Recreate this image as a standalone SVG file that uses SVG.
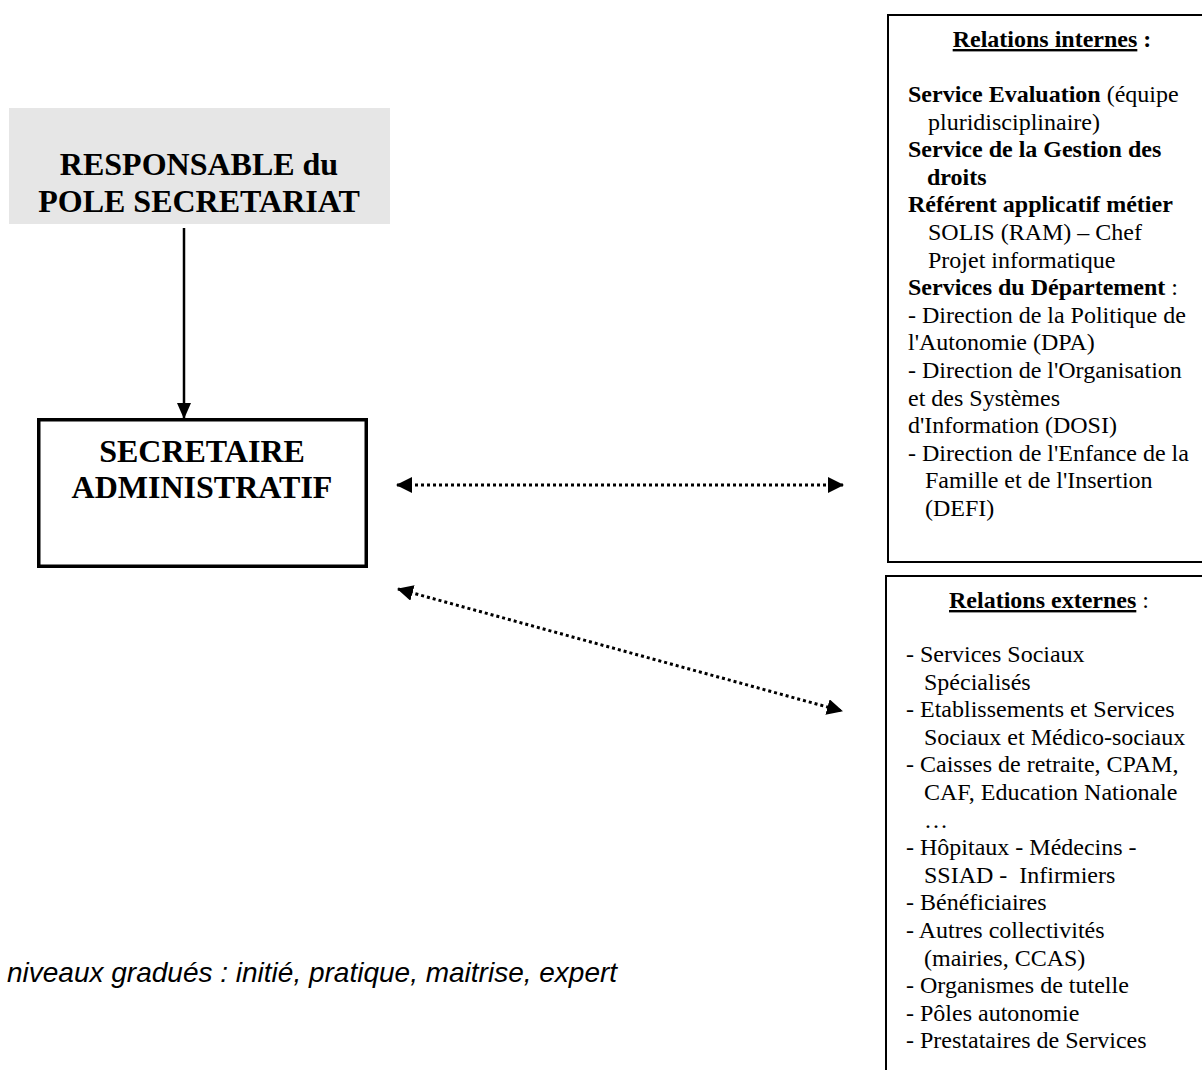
<svg xmlns="http://www.w3.org/2000/svg" width="1202" height="1070" viewBox="0 0 1202 1070">
<style>
.t{font-family:"Liberation Serif","Times New Roman",serif;fill:#000}
.big{font-size:32px;font-weight:bold;text-anchor:middle}
.list{font-size:24px}
.b{font-weight:bold}
.it{font-family:"Liberation Sans",Arial,sans-serif;font-style:italic;font-size:28px;fill:#000}
.dot{stroke:#000;stroke-width:3;stroke-dasharray:3 3;fill:none}
</style>
<defs>
<marker id="ah" viewBox="0 0 16 16" refX="15" refY="8" markerWidth="16" markerHeight="16" markerUnits="userSpaceOnUse" orient="auto-start-reverse">
<path d="M0,0 L16,8 L0,16 Z" fill="#000"/>
</marker>
<marker id="ahs" viewBox="0 0 16 14" refX="15" refY="7" markerWidth="16" markerHeight="14" markerUnits="userSpaceOnUse" orient="auto">
<path d="M0,0 L16,7 L0,14 Z" fill="#000"/>
</marker>
</defs>
<rect width="1202" height="1070" fill="#fff"/>
<g id="responsable">
<rect x="9" y="108" width="381" height="116" fill="#e6e6e6"/>
<text class="t big" x="199" y="175">RESPONSABLE du</text>
<text class="t big" x="199" y="212">POLE SECRETARIAT</text>
</g>
<g id="secretaire">
<rect x="38.75" y="419.75" width="327.5" height="146.5" fill="#fff" stroke="#000" stroke-width="3.5"/>
<text class="t big" x="202" y="462">SECRETAIRE</text>
<text class="t big" x="202" y="498">ADMINISTRATIF</text>
</g>
<g id="relations-internes">
<rect x="888" y="15" width="330" height="547" fill="#fff" stroke="#000" stroke-width="2"/>
<text class="t list b" x="1052" y="47" text-anchor="middle"><tspan text-decoration="underline">Relations internes</tspan> :</text>
<text class="t list" x="908" y="102"><tspan class="b">Service Evaluation</tspan> (équipe</text>
<text class="t list" x="928" y="129.6">pluridisciplinaire)</text>
<text class="t list b" x="908" y="157.2">Service de la Gestion des</text>
<text class="t list b" x="927" y="184.8">droits</text>
<text class="t list b" x="908" y="212.4">Référent applicatif métier</text>
<text class="t list" x="928" y="240">SOLIS (RAM) – Chef</text>
<text class="t list" x="928" y="267.6">Projet informatique</text>
<text class="t list" x="908" y="295.2"><tspan class="b">Services du Département</tspan> :</text>
<text class="t list" x="908" y="322.8">- Direction de la Politique de</text>
<text class="t list" x="908" y="350.4">l'Autonomie (DPA)</text>
<text class="t list" x="908" y="378">- Direction de l'Organisation</text>
<text class="t list" x="908" y="405.6">et des Systèmes</text>
<text class="t list" x="908" y="433.2">d'Information (DOSI)</text>
<text class="t list" x="908" y="460.8">- Direction de l'Enfance de la</text>
<text class="t list" x="925" y="488.4">Famille et de l'Insertion</text>
<text class="t list" x="925" y="516">(DEFI)</text>
</g>
<g id="relations-externes">
<rect x="886" y="576" width="330" height="520" fill="#fff" stroke="#000" stroke-width="2"/>
<text class="t list" x="1049" y="608" text-anchor="middle"><tspan class="b" text-decoration="underline">Relations externes</tspan> :</text>
<text class="t list" x="906" y="662">- Services Sociaux</text>
<text class="t list" x="924" y="689.6">Spécialisés</text>
<text class="t list" x="906" y="717.2">- Etablissements et Services</text>
<text class="t list" x="924" y="744.8">Sociaux et Médico-sociaux</text>
<text class="t list" x="906" y="772.4">- Caisses de retraite, CPAM,</text>
<text class="t list" x="924" y="800">CAF, Education Nationale</text>
<text class="t list" x="924" y="827.6">…</text>
<text class="t list" x="906" y="855.2">- Hôpitaux - Médecins -</text>
<text class="t list" x="924" y="882.8" xml:space="preserve">SSIAD -  Infirmiers</text>
<text class="t list" x="906" y="910.4">- Bénéficiaires</text>
<text class="t list" x="906" y="938">- Autres collectivités</text>
<text class="t list" x="924" y="965.6">(mairies, CCAS)</text>
<text class="t list" x="906" y="993.2">- Organismes de tutelle</text>
<text class="t list" x="906" y="1020.8">- Pôles autonomie</text>
<text class="t list" x="906" y="1048.4">- Prestataires de Services</text>
</g>
<g id="legende">
<text class="it" x="7" y="982">niveaux gradués : initié, pratique, maitrise, expert</text>
</g>
<g id="connectors">
<line x1="184" y1="228" x2="184" y2="418" stroke="#000" stroke-width="2.5" marker-end="url(#ahs)"/>
<line class="dot" x1="397" y1="485" x2="843" y2="485" marker-start="url(#ah)" marker-end="url(#ah)"/>
<line class="dot" x1="398" y1="589" x2="842" y2="711" marker-start="url(#ah)" marker-end="url(#ah)"/>
</g>
</svg>
